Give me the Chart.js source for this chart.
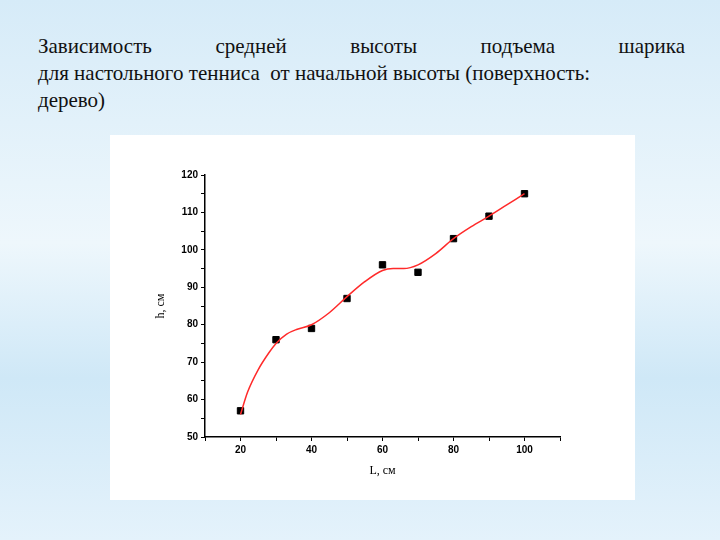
<!DOCTYPE html>
<html><head><meta charset="utf-8">
<script src="https://cdn.jsdelivr.net/npm/chart.js@4"></script>
<style>
body{margin:0;width:720px;height:540px;overflow:hidden;position:relative;
background:linear-gradient(180deg,#d6ebf8 0%,#eef7fc 45%,#cfe8f7 70%,#e4f2fb 100%);}
#title{position:absolute;left:38px;top:33px;width:647px;font:21px "Liberation Serif",serif;line-height:27px;color:#111;white-space:nowrap}
#title .j{text-align:justify;text-align-last:justify;white-space:normal}
#panel{position:absolute;left:110px;top:135px;width:525px;height:365px;background:#fff}
canvas{position:absolute;left:0;top:0}
</style></head><body>
<div id="title"><div class="j">Зависимость средней высоты подъема шарика</div><div>для настольного тенниса&nbsp; от начальной высоты (поверхность:</div><div>дерево)</div></div>
<div id="panel"></div>
<canvas id="c" width="720" height="540"></canvas>
<script>
const L_cm = [20,30,40,50,60,70,80,90,100];
const h_cm = [57,76,79,87,96,94,103,109,115];
const fitL = [20,22,25,28,30,33,36,40,45,50,55,60,63,66,70,75,80,85,90,95,100];
const fitH = [56,62,68,72.5,75,77.5,78.8,80,83.2,87.5,91.5,94.5,95,95,96,99,103,106.2,109,112,115];

new Chart("c", {
  type: "scatter",
  data: {
    datasets: [{
      data: fitL.map((x,i)=>({x:x,y:fitH[i]})),
      showLine: true, borderColor: "#ff2a2a", borderWidth: 1.5, pointRadius: 0,
      tension: 0.4, cubicInterpolationMode: "monotone"
    },{
      data: L_cm.map((x,i)=>({x:x,y:h_cm[i]})),
      pointStyle: "rect", pointRadius: 4.5, backgroundColor: "#000", borderColor: "#000"
    }]
  },
  options: {
    responsive: false, animation: false,
    layout: {padding: {left: 150, right: 160, top: 175, bottom: 58}},
    plugins: {legend: {display: false}, tooltip: {enabled: false}},
    scales: {
      x: {
        type: "linear", min: 10, max: 110,
        afterFit: s => { s.height = 45; },
        ticks: {stepSize: 10, color: "#000", font: {family: "Arial", size: 10, weight: "bold"},
          callback: v => v % 20 === 0 && v >= 20 && v <= 100 ? v : ""},
        grid: {drawOnChartArea: false, color: "#000", tickLength: 4},
        border: {color: "#000", width: 1.5},
        title: {display: true, text: "L, см", color: "#000", font: {family: "Liberation Serif", size: 12}}
      },
      y: {
        min: 50, max: 120,
        afterFit: s => { s.width = 55; },
        ticks: {stepSize: 5, color: "#000", font: {family: "Arial", size: 10, weight: "bold"},
          callback: v => v % 10 === 0 ? v : ""},
        grid: {drawOnChartArea: false, color: "#000", tickLength: 4},
        border: {color: "#000", width: 1.5},
        title: {display: true, text: "h, см", color: "#000", font: {family: "Liberation Serif", size: 12}}
      }
    }
  }
});
</script>
</body></html>
